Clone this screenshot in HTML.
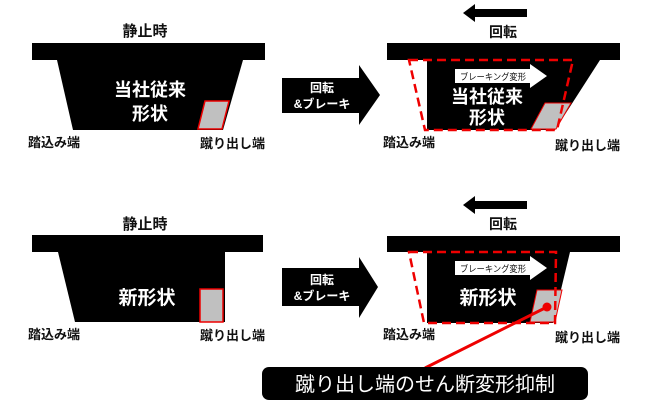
<!DOCTYPE html>
<html><head><meta charset="utf-8"><style>
html,body{margin:0;padding:0;background:#fff;}
svg{display:block;font-family:"Liberation Sans","Noto Sans CJK JP",sans-serif;font-weight:bold;}
</style></head><body>
<svg width="650" height="411" viewBox="0 0 650 411" xmlns="http://www.w3.org/2000/svg">
<!-- TOP LEFT -->
<text x="145" y="36" font-size="15" text-anchor="middle" fill="#111">静止時</text>
<rect x="32" y="43" width="233" height="17" fill="#000"/>
<polygon points="57,60 243,60 223,130 73,130" fill="#000"/>
<polygon points="205,101 229,101 222,129 198,129" fill="#c0c0c0" stroke="#e00" stroke-width="1.5"/>
<text x="150" y="96" font-size="18" text-anchor="middle" fill="#fff">当社従来</text>
<text x="150" y="120" font-size="18" text-anchor="middle" fill="#fff">形状</text>
<text x="28" y="147" font-size="13" fill="#111">踏込み端</text>
<text x="200" y="148" font-size="13" fill="#111">蹴り出し端</text>
<!-- arrow 1 -->
<polygon points="282,78 359,78 359,65 380,95 359,125 359,113 282,113" fill="#000"/>
<text x="322" y="92" font-size="12" text-anchor="middle" fill="#fff">回転</text>
<text x="322" y="108" font-size="12" text-anchor="middle" fill="#fff">&amp;ブレーキ</text>

<!-- TOP RIGHT -->
<polygon points="527,9 475,9 475,4 463,13 475,22 475,17 527,17" fill="#000"/>
<text x="503" y="37" font-size="14" text-anchor="middle" fill="#111">回転</text>
<rect x="387" y="43" width="233" height="17" fill="#000"/>
<polygon points="427,60 600,60 555,130 427,130" fill="#000"/>
<polygon points="545,103 571,103 556,129 531,129" fill="#c0c0c0" stroke="#e00" stroke-width="1"/>
<polygon points="455,69 530,69 530,64 547,76 530,88 530,83 455,83" fill="#fff"/>
<text x="460" y="80" font-size="9" font-weight="normal" textLength="66" lengthAdjust="spacingAndGlyphs" fill="#111">ブレーキング変形</text>
<text x="487" y="103" font-size="18" text-anchor="middle" fill="#fff">当社従来</text>
<text x="487" y="124" font-size="18" text-anchor="middle" fill="#fff">形状</text>
<polygon points="409,60 573,60 557,130 425,130" fill="none" stroke="#e00" stroke-width="2.5" stroke-dasharray="9,5"/>
<text x="383" y="147" font-size="13" fill="#111">踏込み端</text>
<text x="555" y="150" font-size="13" fill="#111">蹴り出し端</text>

<!-- BOTTOM LEFT -->
<text x="145" y="229" font-size="15" text-anchor="middle" fill="#111">静止時</text>
<rect x="32" y="235" width="231" height="17" fill="#000"/>
<polygon points="58,252 225,252 225,322 75,322" fill="#000"/>
<rect x="200" y="289" width="23" height="33" fill="#c0c0c0" stroke="#e00" stroke-width="1.5"/>
<text x="147" y="304" font-size="19" text-anchor="middle" fill="#fff">新形状</text>
<text x="28" y="339" font-size="13" fill="#111">踏込み端</text>
<text x="200" y="340" font-size="13" fill="#111">蹴り出し端</text>
<polygon points="282,268 359,268 359,257 378,287 359,318 359,306 282,306" fill="#000"/>
<text x="322" y="284" font-size="12" text-anchor="middle" fill="#fff">回転</text>
<text x="322" y="300" font-size="12" text-anchor="middle" fill="#fff">&amp;ブレーキ</text>

<!-- BOTTOM RIGHT -->
<polygon points="527,201 475,201 475,196 463,205 475,214 475,209 527,209" fill="#000"/>
<text x="503" y="229" font-size="14" text-anchor="middle" fill="#111">回転</text>
<rect x="387" y="236" width="233" height="16" fill="#000"/>
<polygon points="427,252 570,252 553,323 427,323" fill="#000"/>
<polygon points="537,290 562,290 555,322 530,322" fill="#c0c0c0" stroke="#e00" stroke-width="1"/>
<polygon points="455,261 530,261 530,256 547,268 530,280 530,275 455,275" fill="#fff"/>
<text x="460" y="272" font-size="9" font-weight="normal" textLength="66" lengthAdjust="spacingAndGlyphs" fill="#111">ブレーキング変形</text>
<text x="488" y="304" font-size="19" text-anchor="middle" fill="#fff">新形状</text>
<polygon points="409,252 556,252 555,323 424,323" fill="none" stroke="#e00" stroke-width="2.5" stroke-dasharray="9,5"/>
<text x="383" y="339" font-size="13" fill="#111">踏込み端</text>
<text x="555" y="342" font-size="13" fill="#111">蹴り出し端</text>
<line x1="547" y1="307" x2="425" y2="368" stroke="#e00" stroke-width="3"/>
<circle cx="547" cy="307" r="4.5" fill="#e00"/>
<!-- bottom box -->
<rect x="262" y="367" width="326" height="33" rx="7" fill="#000"/>
<text x="425" y="391" font-size="20" font-weight="normal" text-anchor="middle" fill="#fff">蹴り出し端のせん断変形抑制</text>
</svg>
</body></html>
